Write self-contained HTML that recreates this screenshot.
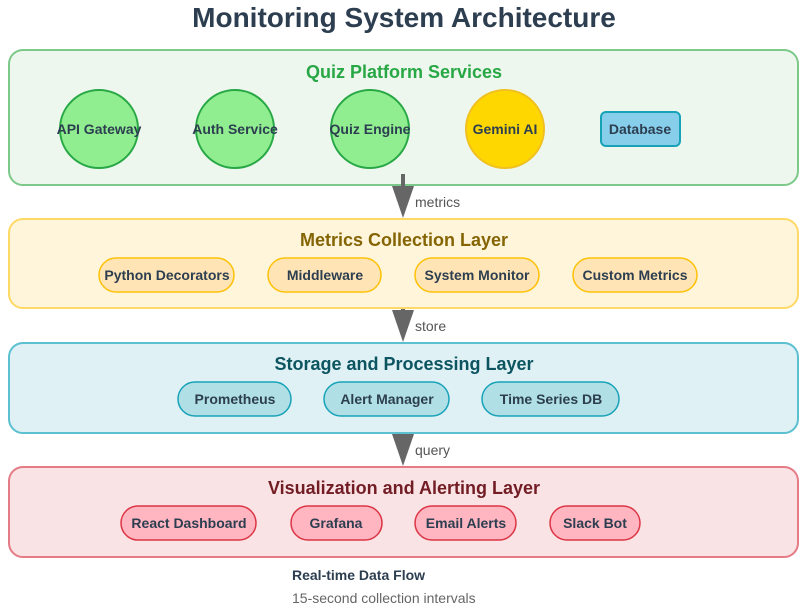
<!DOCTYPE html>
<html><head><meta charset="utf-8"><style>
html,body{margin:0;padding:0;background:#fff;width:812px;height:611px;overflow:hidden}
svg{display:block}
text{font-family:"Liberation Sans",Arial,sans-serif}
</style></head><body>
<svg width="812" height="611" viewBox="0 0 812 611" xmlns="http://www.w3.org/2000/svg">
<text x="404" y="27" text-anchor="middle" font-size="28" font-weight="bold" fill="#2c3e50">Monitoring System Architecture</text>

<!-- Layer 1 -->
<rect x="9" y="50" width="789" height="135" rx="14" fill="#edf7ee" stroke="#7dc98a" stroke-width="2"/>
<text x="404" y="78" text-anchor="middle" font-size="18" font-weight="bold" fill="#28a745">Quiz Platform Services</text>
<g stroke="#28a745" stroke-width="2" fill="#90ee90">
<circle cx="99" cy="129" r="39"/><circle cx="235" cy="129" r="39"/><circle cx="370" cy="129" r="39"/>
</g>
<circle cx="505" cy="129" r="39" fill="#ffd700" stroke="#f0c020" stroke-width="2"/>
<rect x="601" y="112" width="79" height="34" rx="5" fill="#87ceeb" stroke="#17a2b8" stroke-width="2"/>
<g font-size="14" font-weight="bold" fill="#2c3e50" text-anchor="middle">
<text x="99" y="134">API Gateway</text><text x="235" y="134">Auth Service</text><text x="370" y="134">Quiz Engine</text><text x="505" y="134">Gemini AI</text><text x="640" y="134">Database</text>
</g>

<!-- arrows -->
<g fill="#666" stroke="none">
<rect x="401" y="174" width="4" height="14"/><polygon points="392,186 414,186 403,218"/>
<rect x="401" y="298" width="4" height="14"/><polygon points="392,310 414,310 403,342"/>
<rect x="401" y="422" width="4" height="14"/><polygon points="392,434 414,434 403,466"/>
</g>
<g font-size="14" fill="#555">
<text x="415" y="207">metrics</text><text x="415" y="331">store</text><text x="415" y="455">query</text>
</g>

<!-- Layer 2 -->
<rect x="9" y="219" width="789" height="89" rx="14" fill="#fff5da" stroke="#ffd966" stroke-width="2"/>
<text x="404" y="246" text-anchor="middle" font-size="18" font-weight="bold" fill="#856404">Metrics Collection Layer</text>
<g fill="#ffe4b5" stroke="#ffc107" stroke-width="1.5">
<rect x="99" y="258" width="135" height="34" rx="17"/><rect x="268" y="258" width="113" height="34" rx="17"/><rect x="415" y="258" width="124" height="34" rx="17"/><rect x="573" y="258" width="124" height="34" rx="17"/>
</g>
<g font-size="14" font-weight="bold" fill="#2c3e50" text-anchor="middle">
<text x="167" y="280">Python Decorators</text><text x="325" y="280">Middleware</text><text x="477" y="280">System Monitor</text><text x="635" y="280">Custom Metrics</text>
</g>

<!-- Layer 3 -->
<rect x="9" y="343" width="789" height="90" rx="14" fill="#dff1f5" stroke="#5bc0d0" stroke-width="2"/>
<text x="404" y="370" text-anchor="middle" font-size="18" font-weight="bold" fill="#0c5460">Storage and Processing Layer</text>
<g fill="#b0e0e6" stroke="#17a2b8" stroke-width="1.5">
<rect x="178" y="382" width="113" height="34" rx="17"/><rect x="324" y="382" width="125" height="34" rx="17"/><rect x="482" y="382" width="137" height="34" rx="17"/>
</g>
<g font-size="14" font-weight="bold" fill="#2c3e50" text-anchor="middle">
<text x="235" y="404">Prometheus</text><text x="387" y="404">Alert Manager</text><text x="551" y="404">Time Series DB</text>
</g>

<!-- Layer 4 -->
<rect x="9" y="467" width="789" height="90" rx="14" fill="#fae3e5" stroke="#e57b85" stroke-width="2"/>
<text x="404" y="494" text-anchor="middle" font-size="18" font-weight="bold" fill="#721c24">Visualization and Alerting Layer</text>
<g fill="#ffb6c1" stroke="#dc3545" stroke-width="1.5">
<rect x="121" y="506" width="135" height="34" rx="17"/><rect x="291" y="506" width="91" height="34" rx="17"/><rect x="415" y="506" width="101" height="34" rx="17"/><rect x="550" y="506" width="90" height="34" rx="17"/>
</g>
<g font-size="14" font-weight="bold" fill="#2c3e50" text-anchor="middle">
<text x="189" y="528">React Dashboard</text><text x="336" y="528">Grafana</text><text x="466" y="528">Email Alerts</text><text x="595" y="528">Slack Bot</text>
</g>

<text x="292" y="580" font-size="14" font-weight="bold" fill="#2c3e50">Real-time Data Flow</text>
<text x="292" y="603" font-size="14" fill="#666">15-second collection intervals</text>
</svg>
</body></html>
